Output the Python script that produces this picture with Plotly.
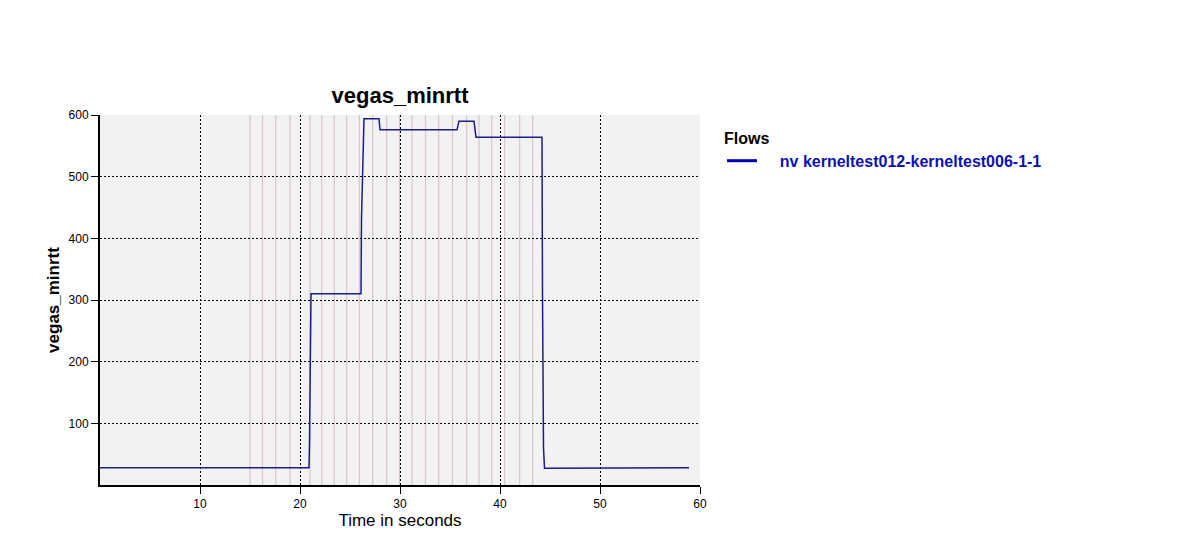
import plotly.graph_objects as go

# Flow samples (time in seconds, vegas_minrtt)
time_s = [0.0, 20.9, 20.95, 21.05, 21.1, 26.1, 26.15, 26.4, 27.9, 28.0, 35.7, 35.9,
          37.4, 37.6, 44.2, 44.25, 44.35, 44.45, 51.7, 51.75, 58.9]
minrtt = [28, 28, 66, 197, 310, 310, 433, 594, 594, 576, 576, 590,
          590, 564, 564, 310, 60, 27, 27, 28, 28]

# Event marker times (pink vertical lines)
event_times = [15.0, 16.25, 17.57, 19.0, 21.0, 22.17, 23.43, 24.67, 25.93, 27.27,
               28.67, 29.95, 31.2, 32.55, 33.87, 35.25, 36.67, 37.9, 39.17, 40.47,
               41.97, 43.27]

x_ticks = [10, 20, 30, 40, 50, 60]
y_ticks = [100, 200, 300, 400, 500, 600]

series_name = "nv kerneltest012-kerneltest006-1-1"

FONT = "Liberation Sans, Arial, sans-serif"
OFF = 8  # page body margin offset compensation

fig = go.Figure()
fig.add_trace(go.Scatter(
    x=time_s, y=minrtt, mode="lines", name=series_name,
    line=dict(color="#1c1c86", width=1.5),
    showlegend=False,
))
# legend entry (thicker swatch like the reference)
fig.add_trace(go.Scatter(
    x=[None], y=[None], mode="lines",
    name="\u00a0\u00a0\u00a0\u00a0<b>" + series_name + "</b>",
    line=dict(color="#0000b0", width=3),
    showlegend=True,
))

for t in event_times:
    fig.add_shape(type="line", xref="x", yref="paper", x0=t, x1=t, y0=0, y1=1,
                  line=dict(color="#d6c6ca", width=1.2), layer="below")

fig.update_layout(
    width=1200, height=550,
    margin=dict(l=100 - OFF, r=500 + OFF, t=115 - OFF, b=65 + OFF, autoexpand=False),
    paper_bgcolor="white",
    plot_bgcolor="#f2f2f2",
    font=dict(family=FONT, color="black", size=12),
    title=dict(text="<b>vegas_minrtt</b>", x=(400 - OFF) / 1200, xanchor="center",
               y=1 - (95 - OFF) / 550, yanchor="middle",
               font=dict(size=22, family=FONT, color="black")),
    legend=dict(
        x=(722 - OFF) / 1200, xanchor="left", y=1 - (123 - OFF) / 550, yanchor="top",
        xref="container", yref="container",
        title=dict(text="<b>Flows</b>", font=dict(size=16, color="black", family=FONT)),
        font=dict(size=16, color="#1010b0", family=FONT),
        bgcolor="rgba(0,0,0,0)",
        itemwidth=30,
    ),
    showlegend=True,
)

fig.update_xaxes(
    range=[0, 60], tickvals=x_ticks, ticktext=[str(v) for v in x_ticks],
    showgrid=True, gridcolor="black", griddash="2px,2px", gridwidth=1,
    showline=True, linecolor="black", linewidth=2,
    ticks="outside", ticklen=7, tickcolor="black", tickwidth=1,
    tickfont=dict(size=12, family=FONT),
    zeroline=False, automargin=False,
    title=dict(text="Time in seconds", font=dict(size=17, family=FONT), standoff=4),
)
fig.update_yaxes(
    range=[0, 600], tickvals=y_ticks, ticktext=[str(v) for v in y_ticks],
    showgrid=True, gridcolor="black", griddash="2px,2px", gridwidth=1,
    showline=True, linecolor="black", linewidth=2,
    ticks="outside", ticklen=7, tickcolor="black", tickwidth=1,
    tickfont=dict(size=12, family=FONT),
    zeroline=False, automargin=False,
    title=dict(text="<b>vegas_minrtt</b>", font=dict(size=17, family=FONT), standoff=5),
)

fig.write_html("out.html")
